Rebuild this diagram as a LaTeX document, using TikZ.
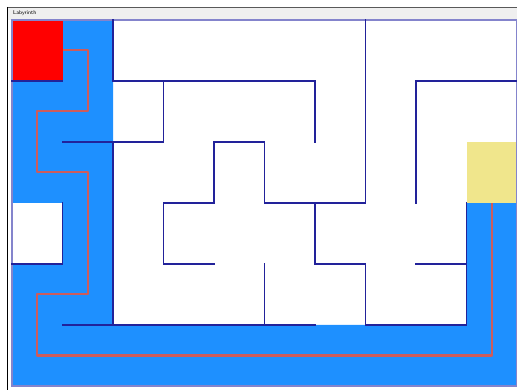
\documentclass[tikz,border=0pt]{standalone}
\usetikzlibrary{backgrounds}
\definecolor{mzblue}{HTML}{1E90FF}
\definecolor{mzred}{HTML}{FF0000}
\definecolor{mzgoal}{HTML}{F0E68C}
\definecolor{mzwall}{HTML}{22229A}
\definecolor{mzedge}{HTML}{8484CC}
\definecolor{mzpath}{HTML}{CD5C5C}
\definecolor{barfill}{HTML}{EFEFEF}

\begin{document}
\begin{tikzpicture}[
  x=50.5pt, y=-61pt,
  wall/.style={mzwall, line width=1.3pt, line cap=rect},
  rim/.style={mzedge, line width=1.6pt},
  trail/.style={draw=mzpath, line width=2pt, line join=round, line cap=round},
  cell/.style={minimum width=50.5pt, minimum height=61pt, inner sep=0pt,
               outer sep=0pt},
]
\useasboundingbox (-12pt,20pt) rectangle (505pt,-370pt);

% ---------------- window -------------------------------------------
\fill[barfill] (-5pt,13pt) rectangle (505pt,0pt);
\draw[black!65, line width=0.8pt] (-5pt,13pt) -- (505pt,13pt);
\draw[black, line width=0.8pt] (-5pt,13pt) -- (-5pt,-370pt);
\node[font=\fontsize{5.5}{5.5}\selectfont\sffamily, anchor=west, inner sep=0pt]
  (title) at (1pt,6.5pt) {Labyrinth};

% ---------------- visited cells ------------------------------------
\fill[mzblue] (1,0) -- (2,0) -- (2,5) -- (9,5) -- (9,3) -- (10,3) -- (10,6)
  -- (0,6) -- (0,4) -- (1,4) -- (1,3) -- (0,3) -- (0,1) -- (1,1) -- cycle;

% ---------------- route --------------------------------------------
\coordinate (start) at (0.5,0.5);
\coordinate (goal) at (9.5,2.5);
\draw[trail] (start) -- (1.5,0.5) -- (1.5,1.5) -- (0.5,1.5) -- (0.5,2.5)
  -- (1.5,2.5) -- (1.5,4.5) -- (0.5,4.5) -- (0.5,5.5) -- (9.5,5.5) -- (goal);

\node[cell, fill=mzred] (startcell) at (start) {};
\node[cell, fill=mzgoal] (goalcell) at (goal) {};

% ---------------- walls --------------------------------------------
\draw[rim] (0,0) rectangle (10,6);

\draw[wall] (0,1) -- (1,1);
\draw[wall] (2,0) -- (2,1) -- (6,1) -- (6,2);
\draw[wall] (3,1) -- (3,2) -- (1,2);
\draw[wall] (2,2) -- (2,5);
\draw[wall] (1,5) -- (6,5);
\draw[wall] (1,3) -- (1,4) -- (0,4);
\draw[wall] (7,0) -- (7,3) -- (5,3) -- (5,2) -- (4,2) -- (4,3) -- (3,3)
  -- (3,4) -- (4,4);
\draw[wall] (10,1) -- (8,1) -- (8,3);
\draw[wall] (6,3) -- (6,4) -- (7,4) -- (7,5) -- (9,5) -- (9,3);
\draw[wall] (8,4) -- (9,4);
\draw[wall] (5,4) -- (5,5);

\end{tikzpicture}
\end{document}
